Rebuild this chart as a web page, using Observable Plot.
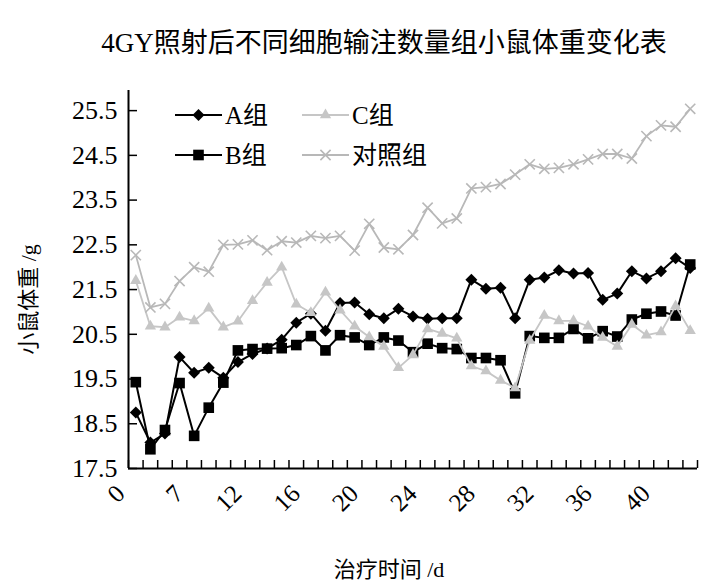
<!DOCTYPE html>
<html><head><meta charset="utf-8">
<script src="https://cdn.jsdelivr.net/npm/d3@7"></script>
<script src="https://cdn.jsdelivr.net/npm/@observablehq/plot@0.6"></script>
<style>
body{margin:0;background:#fff;width:701px;height:583px;overflow:hidden;position:relative;font-family:"Liberation Serif","Noto Sans CJK SC",serif;color:#000;}
#title{position:absolute;left:0;top:0;width:701px;height:80px;box-sizing:border-box;padding-top:30px;padding-left:67px;text-align:center;font-size:27px;line-height:1;white-space:nowrap;}
#chart{position:absolute;left:0;top:80px;}
#legend{position:absolute;left:0;top:0;pointer-events:none;}
</style></head><body>
<div id="title">4GY照射后不同细胞输注数量组小鼠体重变化表</div>
<div id="chart"></div>
<svg id="legend" width="701" height="583"></svg>
<script>
// category labels (treatment day)
const days = ["0","1","3","5","7","8","10","11","12","13","14","15","16","17","18","19","20","21","22","23","24","25","26","27","28","29","30","31","32","33","34","35","36","37","38","39","40","41","42"];
const labelIdx = [0,4,8,12,16,20,24,28,32,36];
const yTicks = [17.5,18.5,19.5,20.5,21.5,22.5,23.5,24.5,25.5];

const groupA = [18.75,18.08,18.28,19.99,19.64,19.75,19.53,19.88,20.06,20.18,20.38,20.76,20.96,20.58,21.20,21.21,20.95,20.86,21.07,20.90,20.85,20.86,20.86,21.72,21.52,21.54,20.86,21.72,21.77,21.93,21.86,21.87,21.27,21.41,21.91,21.75,21.91,22.20,21.98];
const groupB = [19.43,17.93,18.36,19.41,18.23,18.86,19.42,20.14,20.17,20.18,20.19,20.26,20.46,20.14,20.48,20.43,20.26,20.43,20.36,20.10,20.29,20.19,20.17,19.97,19.97,19.92,19.18,20.46,20.42,20.42,20.62,20.41,20.57,20.45,20.83,20.96,21.01,20.92,22.06];
const groupC = [21.70,20.68,20.66,20.88,20.80,21.08,20.66,20.79,21.25,21.66,22.00,21.17,20.98,21.44,21.04,20.68,20.44,20.23,19.75,20.04,20.62,20.52,20.41,19.79,19.68,19.47,19.30,20.36,20.92,20.80,20.80,20.68,20.43,20.23,20.72,20.48,20.55,21.13,20.58];
const control = [22.27,21.10,21.18,21.69,22.00,21.90,22.50,22.51,22.60,22.38,22.58,22.55,22.70,22.65,22.70,22.37,22.97,22.44,22.40,22.72,23.33,22.98,23.09,23.76,23.79,23.86,24.07,24.30,24.20,24.22,24.30,24.41,24.53,24.53,24.43,24.93,25.17,25.14,25.54];

const seriesNames = ["A组","B组","C组","对照组"];
const seriesValues = [groupA, groupB, groupC, control];
const seriesStyle = [
  {color:"#000000", symbol:"diamond2", r:5.4, fill:true, sw:2},
  {color:"#000000", symbol:"square", r:6.0, fill:true, sw:2},
  {color:"#c6c6c6", symbol:"triangle", r:4.2, fill:true, sw:1.8},
  {color:"#b8b8b8", symbol:"times", r:4.7, fill:false, sw:1.8}
];

const rows = seriesValues.map((vals, s) => vals.map((v, i) => ({i, day: days[i], v, name: seriesNames[s]})));
const boundaries = d3.range(-0.5, days.length, 1);

const marks = [
  Plot.axisY({ticks: yTicks, tickFormat: d => d.toFixed(1), tickSize: 9, insetLeft: 9, tickPadding: 11, strokeWidth: 1.5, fontSize: 26, label: null}),
  Plot.axisX({ticks: boundaries, tickFormat: () => "", tickSize: 8, insetBottom: 8, strokeWidth: 1.5, label: null}),
  Plot.axisX({ticks: labelIdx, tickFormat: i => days[i], tickSize: 0, tickRotate: -45, textAnchor: "end", lineAnchor: "middle", tickPadding: 21, dx: -15, fontSize: 25, label: null}),
  Plot.ruleX([-0.5], {stroke: "#000", strokeWidth: 2}),
  Plot.ruleY([17.5], {stroke: "#000", strokeWidth: 2})
];
rows.forEach((data, s) => {
  const st = seriesStyle[s];
  marks.push(Plot.line(data, {x: "i", y: "v", stroke: st.color, strokeWidth: st.sw}));
  marks.push(Plot.dot(data, st.fill
    ? {x: "i", y: "v", symbol: st.symbol, r: st.r, fill: st.color, stroke: "none"}
    : {x: "i", y: "v", symbol: st.symbol, r: st.r, fill: "none", stroke: st.color, strokeWidth: 1.6}));
});
marks.push(Plot.text(["小鼠体重 /g"], {frameAnchor: "left", textAnchor: "middle", lineAnchor: "middle", rotate: -90, dx: -100, dy: 20, fontSize: 22}));
marks.push(Plot.text(["治疗时间 /d"], {frameAnchor: "bottom", textAnchor: "middle", lineAnchor: "middle", dy: 101, dx: -24, fontSize: 22}));

const chart = Plot.plot({
  width: 701, height: 503,
  marginLeft: 128, marginRight: 4, marginTop: 10, marginBottom: 115,
  style: {fontFamily: '"Liberation Serif","Noto Sans CJK SC",serif', fontSize: "24px", color: "#000", background: "#fff", overflow: "visible"},
  x: {type: "linear", domain: [-0.5, days.length - 0.5]},
  y: {domain: [17.5, 25.95]},
  marks
});
document.getElementById("chart").appendChild(chart);

// legend inside the plot area
const symMap = {diamond2: d3.symbolDiamond2, square: d3.symbolSquare, triangle: d3.symbolTriangle, times: d3.symbolTimes};
const legPos = [{x:175, y:115}, {x:175, y:155}, {x:302, y:115}, {x:302, y:155}];
const leg = d3.select("#legend");
seriesNames.forEach((name, s) => {
  const st = seriesStyle[s], p = legPos[s];
  const g = leg.append("g").attr("transform", `translate(${p.x},${p.y})`);
  g.append("line").attr("x1", 0).attr("x2", 47).attr("y1", 0).attr("y2", 0).attr("stroke", st.color).attr("stroke-width", st.sw);
  g.append("path").attr("transform", "translate(23.5,0)")
    .attr("d", d3.symbol(symMap[st.symbol], Math.PI * st.r * st.r)())
    .attr("fill", st.fill ? st.color : "none").attr("stroke", st.fill ? "none" : st.color).attr("stroke-width", 1.6);
  g.append("text").attr("x", 50).attr("y", 0).attr("dy", "0.36em")
    .attr("font-size", 25).attr("font-family", '"Liberation Serif","Noto Sans CJK SC",serif').attr("fill", "#000").text(name);
});
</script>
</body></html>
